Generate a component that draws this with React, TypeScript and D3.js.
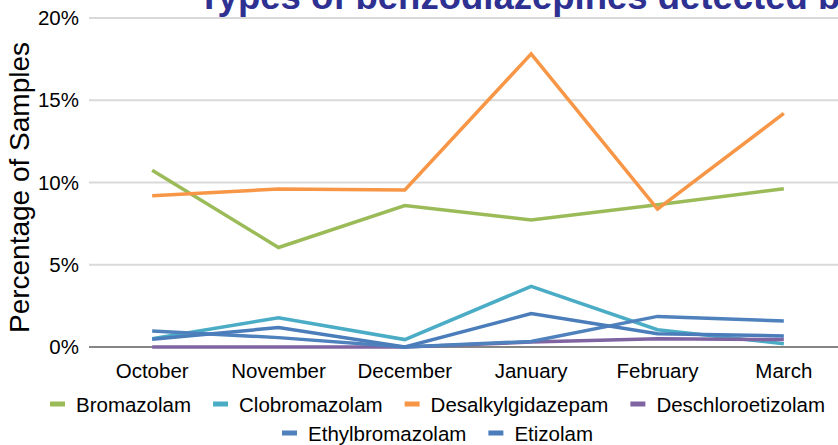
import React, { useEffect, useRef } from "react";
import * as d3 from "d3";

// chart values (percent of samples)
const months = ["October", "November", "December", "January", "February", "March"];
const bromazolam = [10.75, 6.05, 8.6, 7.72, 8.65, 9.62];
const clobromazolam = [0.5, 1.78, 0.45, 3.69, 1.05, 0.2];
const desalkylgidazepam = [9.2, 9.6, 9.55, 17.82, 8.38, 14.2];
const deschloroetizolam = [0, 0, 0, 0.3, 0.5, 0.45];
const ethylbromazolam = [0.97, 0.57, 0, 0.34, 1.86, 1.58];
const etizolam = [0.47, 1.18, 0, 2.03, 0.81, 0.67];
const yTicks = [0, 5, 10, 15, 20];

const series = [
  { name: "Bromazolam", values: bromazolam, color: "#9BBB59" },
  { name: "Clobromazolam", values: clobromazolam, color: "#4BACC6" },
  { name: "Desalkylgidazepam", values: desalkylgidazepam, color: "#F79646" },
  { name: "Deschloroetizolam", values: deschloroetizolam, color: "#8064A2" },
  { name: "Ethylbromazolam", values: ethylbromazolam, color: "#4F81BD" },
  { name: "Etizolam", values: etizolam, color: "#4A7DBA" },
];

const FONT = "'Liberation Sans', Arial, sans-serif";

const App = () => {
  const ref = useRef<SVGSVGElement | null>(null);

  useEffect(() => {
    const svg = d3.select(ref.current);
    svg.selectAll("*").remove();

    const x = d3.scaleBand().domain(months).range([89, 847]).padding(0);
    const y = d3.scaleLinear().domain([0, 20]).range([347, 18]);
    const cx = (m: string) => (x(m) as number) + x.bandwidth() / 2;

    // title (clipped at the top in the original)
    svg
      .append("text")
      .attr("x", 198)
      .attr("y", 9)
      .attr("font-family", FONT)
      .attr("font-weight", "bold")
      .attr("font-size", 36.5)
      .attr("fill", "#2E3192")
      .text("Types of benzodiazepines detected by month");

    // gridlines
    svg
      .append("g")
      .selectAll("line")
      .data(yTicks.filter((t) => t > 0))
      .join("line")
      .attr("x1", 89)
      .attr("x2", 847)
      .attr("y1", (d) => y(d))
      .attr("y2", (d) => y(d))
      .attr("stroke", "#D9D9D9")
      .attr("stroke-width", 2);

    // baseline
    svg
      .append("line")
      .attr("x1", 89)
      .attr("x2", 847)
      .attr("y1", y(0))
      .attr("y2", y(0))
      .attr("stroke", "#868686")
      .attr("stroke-width", 2);

    // y tick labels
    svg
      .append("g")
      .selectAll("text")
      .data(yTicks)
      .join("text")
      .attr("x", 79)
      .attr("y", (d) => y(d) + 7)
      .attr("text-anchor", "end")
      .attr("font-family", FONT)
      .attr("font-size", 20.5)
      .attr("fill", "#000")
      .text((d) => d + "%");

    // x labels
    svg
      .append("g")
      .selectAll("text")
      .data(months)
      .join("text")
      .attr("x", (d) => cx(d))
      .attr("y", 378)
      .attr("text-anchor", "middle")
      .attr("font-family", FONT)
      .attr("font-size", 20.5)
      .attr("fill", "#000")
      .text((d) => d);

    // y axis title
    svg
      .append("text")
      .attr("transform", `translate(29,${(42 + 333) / 2}) rotate(-90)`)
      .attr("text-anchor", "middle")
      .attr("font-family", FONT)
      .attr("font-size", 28)
      .attr("fill", "#000")
      .text("Percentage of Samples");

    // lines
    const line = d3
      .line<number>()
      .x((_, i) => cx(months[i]))
      .y((d) => y(d));

    series.forEach((s) => {
      svg
        .append("path")
        .datum(s.values)
        .attr("fill", "none")
        .attr("stroke", s.color)
        .attr("stroke-width", 3.5)
        .attr("stroke-linejoin", "miter")
        .attr("d", line);
    });

    // legend, two centred rows
    const rows = [series.slice(0, 4), series.slice(4)];
    const rowY = [404, 433];
    rows.forEach((items, r) => {
      const g = svg.append("g");
      let pos = 0;
      items.forEach((s) => {
        g.append("rect")
          .attr("x", pos)
          .attr("y", rowY[r] - 2.5)
          .attr("width", 15)
          .attr("height", 5)
          .attr("fill", s.color);
        const t = g
          .append("text")
          .attr("x", pos + 26)
          .attr("y", rowY[r] + 7.5)
          .attr("font-family", FONT)
          .attr("font-size", 20.5)
          .attr("fill", "#000")
          .text(s.name);
        const w = (t.node() as SVGTextElement).getComputedTextLength();
        pos += 26 + w + 22;
      });
      const total = pos - 22;
      g.attr("transform", `translate(${437.5 - total / 2},0)`);
    });
  }, []);

  return (
    <svg
      ref={ref}
      width="838"
      height="445"
      style={{ position: "absolute", left: 0, top: 0, background: "#fff" }}
    ></svg>
  );
};

export default App;
